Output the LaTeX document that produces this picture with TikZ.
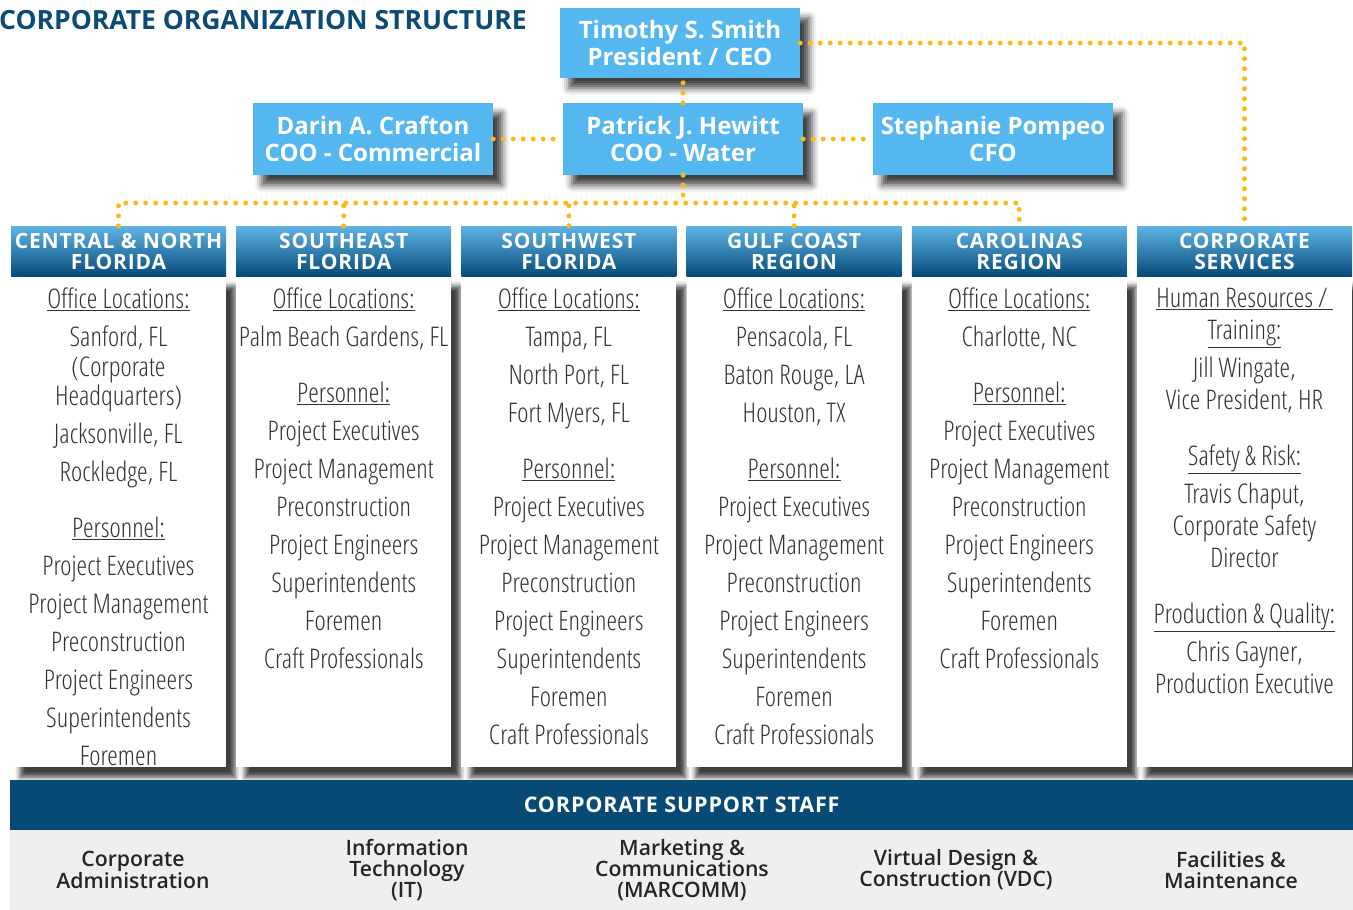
\documentclass[tikz,border=0pt]{standalone}
\usepackage{fontspec}
\usetikzlibrary{shadows.blur}
\setmainfont{Open Sans}
\IfFontExistsTF{Open Sans Condensed Light}{%
  \newfontfamily\bodyfont{Open Sans Condensed Light}}{%
  \IfFontExistsTF{Open Sans Light}{%
    \newfontfamily\bodyfont[FakeStretch=0.69]{Open Sans Light}}{%
    \newfontfamily\bodyfont[FakeStretch=0.69]{Open Sans}}}
\IfFontExistsTF{Open Sans SemiBold}{%
  \newfontfamily\semifont{Open Sans SemiBold}}{%
  \IfFontExistsTF{Open Sans Semibold}{%
    \newfontfamily\semifont{Open Sans Semibold}}{%
    \newfontfamily\semifont{Open Sans Bold}}}
\newfontfamily\spacedbold[LetterSpace=4]{Open Sans Bold}
\definecolor{titlec}{HTML}{0B4B76}
\definecolor{boxc}{HTML}{55B7EF}
\definecolor{dotc}{HTML}{FBBA16}
\definecolor{headtop}{HTML}{5FB4E6}
\definecolor{headbot}{HTML}{064C7A}
\definecolor{supc}{HTML}{074A75}
\definecolor{grayc}{HTML}{EFEFEF}
\definecolor{bodyc}{HTML}{333333}
\definecolor{supitemc}{HTML}{262626}
\tikzset{
  dots/.style={draw=dotc, line width=5pt, line cap=round, dash pattern=on 0pt off 10pt},
  topbox/.style={fill=boxc, minimum width=240, minimum height=72, inner sep=0,
    text=white, font=\bfseries\fontsize{24}{27}\selectfont, align=center,
    blur shadow={shadow xshift=9pt, shadow yshift=-10pt, shadow blur radius=7pt, shadow opacity=75}},
  colhead/.style={top color=headtop, bottom color=headbot, minimum width=215,
    minimum height=50, inner sep=0, text=white,
    font=\spacedbold\fontsize{21}{21}\selectfont, align=center},
  colbody/.style={fill=white, minimum width=215, minimum height=491, inner sep=0, anchor=north,
    blur shadow={shadow xshift=9pt, shadow yshift=-10pt, shadow blur radius=5pt, shadow opacity=75}},
  coltext/.style={text=bodyc, font=\bodyfont\fontsize{27}{38}\selectfont, align=center,
    inner sep=0, anchor=north},
  supitem/.style={text=supitemc, font=\semifont\fontsize{21.2}{21}\selectfont, align=center, inner sep=0},
}
\begin{document}
\begin{tikzpicture}[x=1pt,y=-1pt]
\useasboundingbox (0,0) rectangle (1353,910);
% title
\node[anchor=base west, text=titlec, font=\bfseries\fontsize{26.5}{26.5}\selectfont, inner sep=0] (title) at (-1,29) {CORPORATE ORGANIZATION STRUCTURE};
% top boxes
\node[topbox, minimum height=70] (ceo) at (680,43) {Timothy S. Smith\\President / CEO};
\node[topbox] (hewitt) at (683,139) {Patrick J. Hewitt\\COO - Water};
\node[topbox] (crafton) at (373,139) {Darin A. Crafton\\COO - Commercial};
\node[topbox] (pompeo) at (993,139) {Stephanie Pompeo\\CFO};
% column bodies
\foreach \i/\cx in {1/118.5,2/343.7,3/568.9,4/794.1,5/1019.3,6/1244.5}{
  \node[colbody] (b\i) at (\cx,276) {};
}
% column headers
\node[colhead] (h1) at (118.5,251) {CENTRAL \& NORTH\\FLORIDA};
\node[colhead] (h2) at (343.7,251) {SOUTHEAST\\FLORIDA};
\node[colhead] (h3) at (568.9,251) {SOUTHWEST\\FLORIDA};
\node[colhead] (h4) at (794.1,251) {GULF COAST\\REGION};
\node[colhead] (h5) at (1019.3,251) {CAROLINAS\\REGION};
\node[colhead] (h6) at (1244.5,251) {CORPORATE\\SERVICES};
% column texts
\node[coltext] (t1) at ([yshift=-12pt]b1.north) {\underline{Office Locations:}\\
Sanford, FL\\[-8.5pt] (Corporate\\[-8.5pt] Headquarters)\\
Jacksonville, FL\\ Rockledge, FL\\[18pt]
\underline{Personnel:}\\ Project Executives\\ Project Management\\ Preconstruction\\
Project Engineers\\ Superintendents\\ Foremen};
\node[coltext] (t2) at ([yshift=-12pt]b2.north) {\underline{Office Locations:}\\
Palm Beach Gardens, FL\\[18pt]
\underline{Personnel:}\\ Project Executives\\ Project Management\\ Preconstruction\\
Project Engineers\\ Superintendents\\ Foremen\\ Craft Professionals};
\node[coltext] (t3) at ([yshift=-12pt]b3.north) {\underline{Office Locations:}\\
Tampa, FL\\ North Port, FL\\ Fort Myers, FL\\[18pt]
\underline{Personnel:}\\ Project Executives\\ Project Management\\ Preconstruction\\
Project Engineers\\ Superintendents\\ Foremen\\ Craft Professionals};
\node[coltext] (t4) at ([yshift=-12pt]b4.north) {\underline{Office Locations:}\\
Pensacola, FL\\ Baton Rouge, LA\\ Houston, TX\\[18pt]
\underline{Personnel:}\\ Project Executives\\ Project Management\\ Preconstruction\\
Project Engineers\\ Superintendents\\ Foremen\\ Craft Professionals};
\node[coltext] (t5) at ([yshift=-12pt]b5.north) {\underline{Office Locations:}\\
Charlotte, NC\\[18pt]
\underline{Personnel:}\\ Project Executives\\ Project Management\\ Preconstruction\\
Project Engineers\\ Superintendents\\ Foremen\\ Craft Professionals};
\node[coltext] (t6) at ([yshift=-12pt]b6.north) {\underline{Human Resources /\ }\\[-6pt]
\underline{Training:}\\ Jill Wingate,\\[-6pt] Vice President, HR\\[18pt]
\underline{Safety \& Risk:}\\ Travis Chaput,\\[-6pt] Corporate Safety\\[-6pt] Director\\[18pt]
\underline{Production \& Quality:}\\ Chris Gayner,\\[-6pt] Production Executive};
% connectors
\coordinate (bus) at (683,203);
\draw[dots] (hewitt.north) -- (hewitt.north |- ceo.south);
\draw[dots] (crafton.east) -- (hewitt.west);
\draw[dots] (hewitt.east) -- (pompeo.west);
\draw[dots] (hewitt.south) -- (bus);
\draw[dots] (h1.north) |- (bus) -| (h5.north);
\foreach \i in {2,3,4}{\draw[dots] (h\i.north) -- (h\i.north |- bus);}
\draw[dots] (ceo.east) -| (h6.north);
% support staff
\node[fill=supc, minimum width=1343, minimum height=50, anchor=north west, inner sep=0,
  text=white, font=\spacedbold\fontsize{21.5}{21.5}\selectfont] (band) at (10,780) {CORPORATE SUPPORT STAFF};
\node[fill=grayc, minimum width=1343, minimum height=80, anchor=north west, inner sep=0] (grayband) at (10,830) {};
\node[supitem] (s1) at (133,870) {Corporate\\Administration};
\node[supitem] (s2) at (407,870) {Information\\Technology\\(IT)};
\node[supitem] (s3) at (682,870) {Marketing \&\\Communications\\(MARCOMM)};
\node[supitem] (s4) at (956,870) {Virtual Design \&\\Construction (VDC)};
\node[supitem] (s5) at (1231,870) {Facilities \&\\Maintenance};
\end{tikzpicture}
\end{document}
